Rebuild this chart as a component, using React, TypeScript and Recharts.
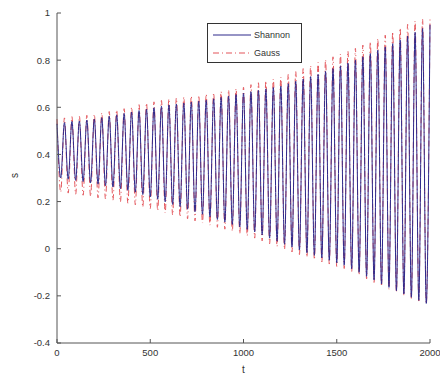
import React from 'react';
import { LineChart, Line, XAxis, YAxis, Legend } from 'recharts';

// sample times (s)
const tValues = [
  0, 20, 40, 60, 80, 100, 120, 140, 160, 180, 200, 220, 240, 260, 280, 300, 320, 340, 360, 380,
  400, 420, 440, 460, 480, 500, 520, 540, 560, 580, 600, 620, 640, 660, 680, 700, 720, 740, 760, 780,
  800, 820, 840, 860, 880, 900, 920, 940, 960, 980, 1000, 1020, 1040, 1060, 1080, 1100, 1120, 1140, 1160, 1180,
  1200, 1220, 1240, 1260, 1280, 1300, 1320, 1340, 1360, 1380, 1400, 1420, 1440, 1460, 1480, 1500, 1520, 1540, 1560, 1580,
  1600, 1620, 1640, 1660, 1680, 1700, 1720, 1740, 1760, 1780, 1800, 1820, 1840, 1860, 1880, 1900, 1920, 1940, 1960, 1980,
  2000,
];

const shannon = [
  0.53, 0.30, 0.535, 0.295, 0.54, 0.29, 0.542, 0.285, 0.546, 0.28, 0.55, 0.274, 0.556, 0.268, 0.562, 0.262, 0.568, 0.255, 0.574, 0.248,
  0.58, 0.24, 0.586, 0.23, 0.592, 0.22, 0.598, 0.21, 0.604, 0.199, 0.61, 0.188, 0.614, 0.178, 0.618, 0.168, 0.622, 0.157, 0.626, 0.146,
  0.63, 0.135, 0.636, 0.124, 0.642, 0.113, 0.648, 0.103, 0.654, 0.092, 0.66, 0.082, 0.666, 0.071, 0.672, 0.058, 0.678, 0.045, 0.684, 0.032,
  0.69, 0.019, 0.70, 0.007, 0.71, -0.005, 0.72, -0.017, 0.73, -0.028, 0.74, -0.039, 0.752, -0.049, 0.764, -0.06, 0.776, -0.07, 0.788, -0.085,
  0.80, -0.10, 0.814, -0.117, 0.828, -0.133, 0.842, -0.15, 0.856, -0.164, 0.87, -0.178, 0.886, -0.192, 0.902, -0.206, 0.918, -0.219, 0.934, -0.232,
  0.95,
];

const gauss = [
  0.55, 0.24, 0.555, 0.236, 0.56, 0.231, 0.562, 0.227, 0.566, 0.222, 0.57, 0.216, 0.576, 0.211, 0.582, 0.206, 0.588, 0.199, 0.594, 0.193,
  0.60, 0.186, 0.611, 0.177, 0.617, 0.17, 0.623, 0.162, 0.629, 0.152, 0.635, 0.143, 0.639, 0.135, 0.643, 0.127, 0.647, 0.118, 0.651, 0.109,
  0.655, 0.10, 0.661, 0.091, 0.667, 0.083, 0.673, 0.074, 0.679, 0.064, 0.685, 0.055, 0.696, 0.045, 0.704, 0.033, 0.712, 0.021, 0.72, 0.009,
  0.728, -0.003, 0.74, -0.014, 0.752, -0.025, 0.764, -0.036, 0.776, -0.046, 0.79, -0.056, 0.802, -0.065, 0.814, -0.075, 0.826, -0.084, 0.838, -0.098,
  0.85, -0.112, 0.864, -0.128, 0.878, -0.143, 0.892, -0.159, 0.906, -0.172, 0.92, -0.185, 0.936, -0.198, 0.952, -0.211, 0.966, -0.222, 0.974, -0.233,
  0.975,
];

const xTicks = [0, 500, 1000, 1500, 2000];
const yTicks = [-0.4, -0.2, 0, 0.2, 0.4, 0.6, 0.8, 1];

const data = tValues.map((t, i) => ({ t, shannon: shannon[i], gauss: gauss[i] }));

const BLUE = '#2e2a8c';
const RED = '#e4545a';
const AXIS = '#555';
const font = '"Liberation Sans", Arial, sans-serif';

const LegendBox = () => (
  <div
    style={{
      width: 93,
      height: 38,
      border: '1px solid #333',
      background: '#fff',
      fontFamily: font,
      fontSize: 9,
      color: '#333',
      boxSizing: 'content-box',
    }}
  >
    <svg width={93} height={38}>
      <line x1={5} y1={11} x2={43} y2={11} stroke={BLUE} strokeWidth={1.2} />
      <text x={46} y={14} fontSize={9} fill="#333" fontFamily={font}>Shannon</text>
      <line x1={5} y1={29} x2={43} y2={29} stroke={RED} strokeWidth={1.2} strokeDasharray="6 3 1 3" />
      <text x={46} y={32} fontSize={9} fill="#333" fontFamily={font}>Gauss</text>
    </svg>
  </div>
);

const App = () => {
  const tick = { fontSize: 9.5, fill: '#333', fontFamily: font };
  return (
    <div style={{ position: 'absolute', left: 0, top: 0, width: 440, height: 374, background: '#fff' }}>
      <LineChart width={440} height={374} data={data} margin={{ top: 13, right: 10, bottom: 0, left: 0 }}>
        <XAxis
          dataKey="t"
          type="number"
          domain={[0, 2000]}
          ticks={xTicks}
          xAxisId="bottom"
          height={31}
          stroke={AXIS}
          tickSize={-4}
          tickMargin={10}
          tick={tick}
          label={{ value: 't', position: 'insideBottom', offset: 1, fontSize: 10, fill: '#333', fontFamily: font }}
        />
        <XAxis
          dataKey="t"
          type="number"
          domain={[0, 2000]}
          ticks={xTicks}
          xAxisId="top"
          orientation="top"
          height={0}
          stroke={AXIS}
          tickSize={-4}
          tick={false}
        />
        <YAxis
          yAxisId="left"
          type="number"
          domain={[-0.4, 1]}
          ticks={yTicks}
          width={57}
          stroke={AXIS}
          tickSize={-4}
          tickMargin={11}
          tick={tick}
          label={{ value: 's', angle: -90, position: 'insideLeft', offset: 14, fontSize: 10, fill: '#333', fontFamily: font }}
        />
        <YAxis
          yAxisId="right"
          orientation="right"
          type="number"
          domain={[-0.4, 1]}
          ticks={yTicks}
          width={0}
          stroke={AXIS}
          tickSize={-4}
          tick={false}
        />
        <Legend
          layout="vertical"
          align="center"
          verticalAlign="middle"
          content={() => <LegendBox />}
          wrapperStyle={{ position: 'absolute', left: 207, top: 23, width: 95, height: 40 }}
        />
        <Line
          xAxisId="bottom"
          yAxisId="left"
          type="monotone"
          dataKey="gauss"
          name="Gauss"
          stroke={RED}
          strokeWidth={1}
          strokeDasharray="6 3 1 3"
          dot={false}
          isAnimationActive={false}
        />
        <Line
          xAxisId="bottom"
          yAxisId="left"
          type="monotone"
          dataKey="shannon"
          name="Shannon"
          stroke={BLUE}
          strokeWidth={1}
          dot={false}
          isAnimationActive={false}
        />
      </LineChart>
    </div>
  );
};

export default App;
